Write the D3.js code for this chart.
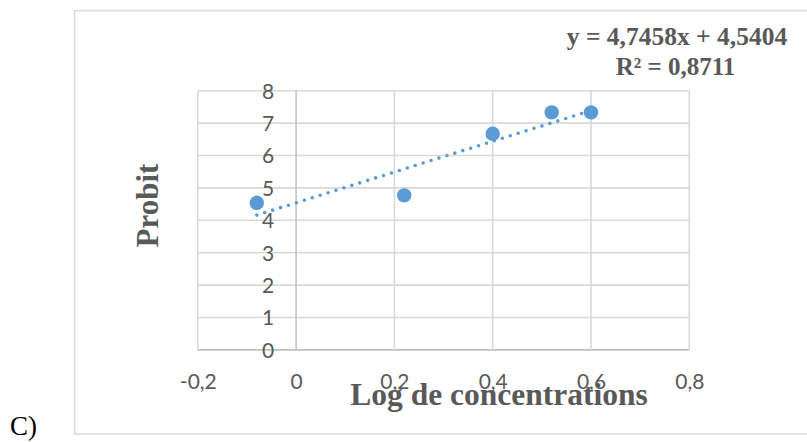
<!DOCTYPE html>
<html>
<head>
<meta charset="utf-8">
<script src="https://cdn.jsdelivr.net/npm/d3@7"></script>
<style>
  html, body { margin: 0; padding: 0; background: #fff; }
  svg { display: block; }
</style>
</head>
<body>
<svg id="chart" width="807" height="442"></svg>
<script>
// Probit versus log concentration, with its linear trend
const logConc = [-0.08, 0.22, 0.40, 0.52, 0.60];
const probit = [4.54, 4.77, 6.67, 7.33, 7.33];
const xTicks = [-0.2, 0, 0.2, 0.4, 0.6, 0.8];
const yTicks = [0, 1, 2, 3, 4, 5, 6, 7, 8];
const slope = 4.7458;
const intercept = 4.5404;
const r2Label = "R² = 0,8711";
const eqLabel = "y = 4,7458x + 4,5404";
const xTitle = "Log de concentrations";
const yTitle = "Probit";
const panelTag = "C)";

const svg = d3.select("#chart");
const x = d3.scaleLinear().domain([-0.2, 0.8]).range([197.8, 689.3]);
const y = d3.scaleLinear().domain([0, 8]).range([349.9, 90.7]);
const fmt = d => String(+d.toFixed(1)).replace(".", ",");

const grey = "#595959";
const sans = "Lato, 'Open Sans', sans-serif";
const serif = "'Times New Roman', 'Liberation Serif', serif";

// outer chart frame
svg.append("rect")
  .attr("x", 74.6).attr("y", 10.6)
  .attr("width", 760).attr("height", 423.4)
  .attr("fill", "none").attr("stroke", "#d9d9d9").attr("stroke-width", 1.5);

// gridlines
const grid = svg.append("g");
grid.selectAll("line.h").data(yTicks).join("line")
  .attr("x1", x(-0.2)).attr("x2", x(0.8))
  .attr("y1", d => y(d)).attr("y2", d => y(d))
  .attr("stroke", d => d === 0 ? "#bfbfbf" : "#d9d9d9")
  .attr("stroke-width", 1.6);
grid.selectAll("line.v").data(xTicks).join("line")
  .attr("x1", d => x(d)).attr("x2", d => x(d))
  .attr("y1", y(8)).attr("y2", y(0))
  .attr("stroke", d => d === 0 ? "#c4c4c4" : "#d9d9d9")
  .attr("stroke-width", 1.6);

// x tick labels
const xAxis = svg.append("g")
  .attr("transform", `translate(0,${y(0) + 24})`)
  .call(d3.axisBottom(x).tickValues(xTicks).tickFormat(fmt).tickSize(0));
xAxis.select(".domain").remove();
xAxis.selectAll("text")
  .attr("fill", grey).attr("font-family", sans).attr("font-size", 21)
  .attr("dy", "0.71em").attr("y", 0);

// y tick labels
const yAxis = svg.append("g")
  .attr("transform", `translate(${x(0) - 12},0)`)
  .call(d3.axisLeft(y).tickValues(yTicks).tickFormat(d => d).tickSize(0));
yAxis.select(".domain").remove();
yAxis.selectAll("text")
  .attr("fill", grey).attr("font-family", sans).attr("font-size", 21)
  .attr("x", -10).attr("dy", "0.35em");

// linear trend line, dotted
const xr = d3.extent(logConc);
svg.append("line")
  .attr("x1", x(xr[0])).attr("y1", y(slope * xr[0] + intercept))
  .attr("x2", x(xr[1])).attr("y2", y(slope * xr[1] + intercept))
  .attr("stroke", "#5b9bd5").attr("stroke-width", 3.6)
  .attr("stroke-linecap", "round").attr("stroke-dasharray", "0 8.3");

// data points
svg.append("g").selectAll("circle")
  .data(logConc.map((v, i) => [v, probit[i]]))
  .join("circle")
  .attr("cx", d => x(d[0])).attr("cy", d => y(d[1]))
  .attr("r", 7.2).attr("fill", "#5b9bd5");

// axis titles
svg.append("text")
  .attr("x", 499).attr("y", 405)
  .attr("text-anchor", "middle")
  .attr("font-family", serif).attr("font-weight", "bold").attr("font-size", 31.5)
  .attr("fill", grey).text(xTitle);
svg.append("text")
  .attr("transform", "translate(158,205.5) rotate(-90)")
  .attr("text-anchor", "middle")
  .attr("font-family", serif).attr("font-weight", "bold").attr("font-size", 31)
  .attr("fill", grey).text(yTitle);

// trend equation
svg.append("text")
  .attr("x", 677).attr("y", 45)
  .attr("text-anchor", "middle")
  .attr("font-family", serif).attr("font-weight", "bold").attr("font-size", 25.5)
  .attr("fill", grey).text(eqLabel);
svg.append("text")
  .attr("x", 675.5).attr("y", 75)
  .attr("text-anchor", "middle")
  .attr("font-family", serif).attr("font-weight", "bold").attr("font-size", 25)
  .attr("fill", grey).text(r2Label);

// panel tag
svg.append("text")
  .attr("x", 10).attr("y", 435)
  .attr("font-family", serif).attr("font-size", 27)
  .attr("fill", "#000").text(panelTag);
</script>
</body>
</html>
